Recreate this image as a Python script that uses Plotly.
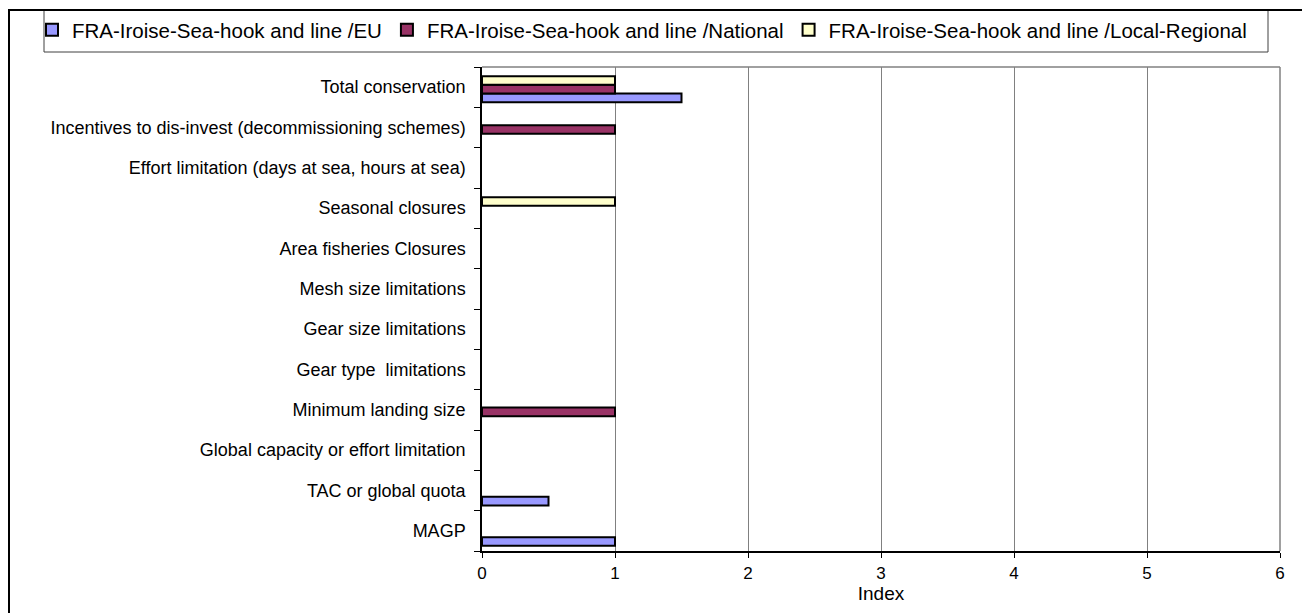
import plotly.graph_objects as go

categories = [
    "MAGP",
    "TAC or global quota",
    "Global capacity or effort limitation",
    "Minimum landing size",
    "Gear type  limitations",
    "Gear size limitations",
    "Mesh size limitations",
    "Area fisheries Closures",
    "Seasonal closures",
    "Effort limitation (days at sea, hours at sea)",
    "Incentives to dis-invest (decommissioning schemes)",
    "Total conservation",
]

series_names = [
    "FRA-Iroise-Sea-hook and line /EU",
    "FRA-Iroise-Sea-hook and line /National",
    "FRA-Iroise-Sea-hook and line /Local-Regional",
]

eu_values = [1, 0.5, 0, 0, 0, 0, 0, 0, 0, 0, 0, 1.5]
national_values = [0, 0, 0, 1, 0, 0, 0, 0, 0, 0, 1, 1]
local_values = [0, 0, 0, 0, 0, 0, 0, 0, 1, 0, 0, 1]

colors = ["#9999FF", "#993366", "#FFFFCC"]

x_ticks = [0, 1, 2, 3, 4, 5, 6]

# page body has an 8px margin: layout is given in screen pixels
W, H = 1310, 613
L, R, T, B = 474, 38, 59, 70
PW, PH = W - L - R, H - T - B


def px_x(screen):
    return (screen - 8 - L) / PW


def px_y(screen):
    return (H - B - (screen - 8)) / PH


FONT = "Liberation Sans, Arial, sans-serif"

bar_w = 0.215
offsets = [-0.3725, -0.1575, 0.0575]

fig = go.Figure()
for name, vals, col, off in zip(series_names, [eu_values, national_values, local_values], colors, offsets):
    fig.add_trace(go.Bar(
        y=categories, x=[v if v else None for v in vals], name=name, orientation="h",
        width=bar_w, offset=off,
        marker=dict(color=col, line=dict(color="black", width=2)),
    ))

fig.update_layout(
    width=W, height=H,
    margin=dict(l=L, r=R, t=T, b=B, autoexpand=False),
    paper_bgcolor="white", plot_bgcolor="white",
    barmode="overlay",
    font=dict(family=FONT, color="black"),
    showlegend=True,
    legend=dict(
        orientation="h", x=px_x(32), y=px_y(30), xanchor="left", yanchor="middle",
        borderwidth=0, bgcolor="rgba(0,0,0,0)",
        font=dict(size=20.5, family=FONT, color="black"),
        itemwidth=30, traceorder="normal",
    ),
    xaxis=dict(
        range=[0, 6], tickvals=x_ticks, ticktext=[str(v) for v in x_ticks],
        showgrid=True, gridcolor="#808080", gridwidth=1,
        showline=True, linecolor="black", linewidth=1.5,
        ticks="outside", ticklen=5, tickcolor="black",
        tickfont=dict(size=17), ticklabelstandoff=1,
        title=dict(text="Index", font=dict(size=19), standoff=0),
        zeroline=False, fixedrange=True, automargin=False,
    ),
    yaxis=dict(
        type="category", categoryorder="array", categoryarray=categories,
        tickson="boundaries", ticks="outside", ticklen=6, tickcolor="black",
        showline=True, linecolor="black", linewidth=1.5,
        showgrid=False, tickfont=dict(size=18), ticklabelstandoff=11,
        automargin=False, fixedrange=True, range=[-0.5, 11.5],
    ),
    shapes=[
        dict(type="line", xref="paper", yref="paper", x0=0, x1=1, y0=1, y1=1,
             line=dict(color="#808080", width=1.5)),
        dict(type="line", xref="paper", yref="paper", x0=1, x1=1, y0=0, y1=1,
             line=dict(color="#808080", width=1.5)),
        dict(type="rect", xref="paper", yref="paper",
             x0=px_x(44), x1=px_x(1268), y0=px_y(52), y1=px_y(10),
             line=dict(color="#404040", width=1), fillcolor="rgba(0,0,0,0)", layer="above"),
        dict(type="rect", xref="paper", yref="paper",
             x0=px_x(9), x1=px_x(1305), y0=px_y(630), y1=px_y(10),
             line=dict(color="black", width=2), fillcolor="rgba(0,0,0,0)", layer="above"),
    ],
)

fig.write_html("out.html")
